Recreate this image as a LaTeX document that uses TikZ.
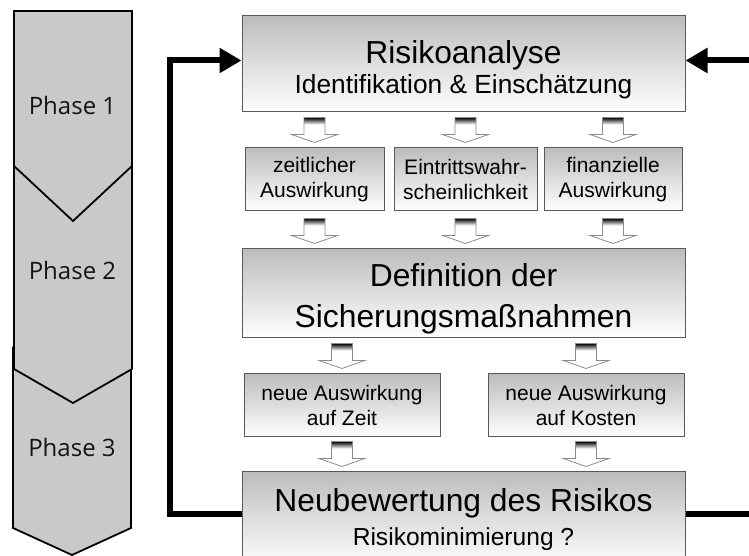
\documentclass[tikz,border=0pt]{standalone}
\usepackage{fontspec}
\setmainfont{Liberation Sans}
\newfontfamily\phasefont{Open Sans}
\usetikzlibrary{arrows.meta,calc}
\begin{document}
\begin{tikzpicture}[x=1pt,y=1pt,
  phase/.style={fill=black!21, draw=black, line width=1.8pt, line join=miter},
  phasetext/.style={font=\phasefont\fontsize{24}{28}\selectfont, text=black!92, anchor=base, inner sep=0pt},
  bigbox/.style={draw=black!65, line width=1pt, top color=black!26, bottom color=white, inner sep=0pt},
  smallbox/.style={bigbox, font=\fontsize{21}{25.5}\selectfont, align=center, text=black},
  bigtext/.style={anchor=base, inner sep=0pt, text=black, font=\fontsize{31.8}{36}\selectfont},
  midtext/.style={anchor=base, inner sep=0pt, text=black, font=\fontsize{26.3}{30}\selectfont},
  loopline/.style={line width=6pt, line join=miter, draw=black},
  looparrow/.style={loopline, -{Triangle[length=22pt,width=24pt]}},
  barrow/.pic={
    \fill[white] (-10.5,25) -- (10.5,25) -- (10.5,8) -- (23,8) -- (0,0) -- (-23,8) -- (-10.5,8) -- cycle;
    \shade[top color=black, bottom color=white] (-10.5,18) rectangle (10.5,25);
    \draw[black!45, line width=0.8pt, line join=miter] (-10.5,25) -- (10.5,25) -- (10.5,8) -- (23,8) -- (0,0) -- (-23,8) -- (-10.5,8) -- cycle;
  }
]
\useasboundingbox (0,0) rectangle (749,556);
\clip (0,0) rectangle (749,556);

% phases
\draw[phase] (13,208) -- (73,174) -- (131,208) -- (131,28) -- (72,1) -- (13,28) -- cycle;
\draw[phase] (14,400) -- (73,345) -- (132,400) -- (132,187) -- (73,153) -- (14,187) -- cycle;
\draw[phase] (14,545) -- (132,545) -- (132,390) -- (73,335) -- (14,390) -- cycle;
\node[phasetext] (P1) at (72.5,441) {Phase 1};
\node[phasetext] (P2) at (72.5,276) {Phase 2};
\node[phasetext] (P3) at (72,99.3) {Phase 3};

% boxes
\node[bigbox, minimum width=443, minimum height=96] (R) at (463.5,492) {};
\node[bigtext] (R1) at (463.5,492.7) {Risikoanalyse};
\node[midtext] (R2) at (463.5,462) {Identifikation \& Einschätzung};

\node[smallbox, minimum width=139, minimum height=63] (Z) at (314.5,376.5) {zeitlicher\\Auswirkung};
\node[smallbox, minimum width=143, minimum height=63] (E) at (465.5,376.5) {Eintrittswahr-\\scheinlichkeit};
\node[smallbox, minimum width=138, minimum height=63] (F) at (613,376.5) {finanzielle\\Auswirkung};

\node[bigbox, minimum width=443, minimum height=89] (D) at (463.5,262.5) {};
\node[bigtext] (D1) at (463.5,269.3) {Definition der};
\node[bigtext] (D2) at (463.5,228.7) {Sicherungsmaßnahmen};

\node[smallbox, minimum width=196, minimum height=63] (T) at (342,150.5) {neue Auswirkung\\auf Zeit};
\node[smallbox, minimum width=196, minimum height=63] (K) at (586,150.5) {neue Auswirkung\\auf Kosten};

\node[bigbox, minimum width=443, minimum height=95] (N) at (463.5,36.5) {};
\node[bigtext] (N1) at (463.5,44.3) {Neubewertung des Risikos};
\node[midtext, font=\fontsize{24.6}{29}\selectfont] (N2) at (463.5,10) {Risikominimierung ?};

% block arrows
\foreach \b in {Z,E,F}{
  \pic at ([yshift=5pt]\b.north) {barrow};
  \pic at ([yshift=5pt]\b |- D.north) {barrow};
}
\foreach \b in {T,K}{
  \pic at ([yshift=5pt]\b.north) {barrow};
  \pic at ([yshift=5pt]\b |- N.north) {barrow};
}

% feedback loop
\coordinate (LB) at (169.5,42);
\coordinate (LT) at (169.5,495.5);
\coordinate (RB) at (760,42);
\coordinate (RT) at (760,495.5);
\draw[looparrow] ([yshift=5.5pt]N.west) -- (LB) -- (LT) -- ([yshift=3.5pt]R.west);
\draw[loopline] ([yshift=5.5pt]N.east) -- (RB);
\draw[looparrow] (RT) -- ([yshift=3.5pt]R.east);
\end{tikzpicture}
\end{document}
